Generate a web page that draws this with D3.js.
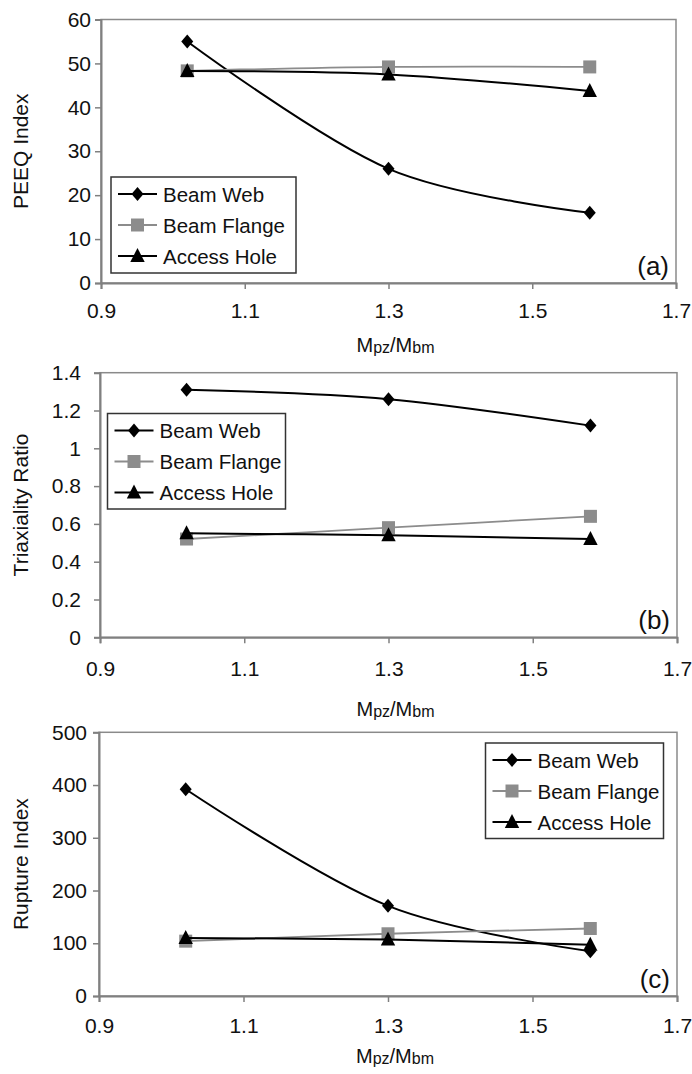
<!DOCTYPE html>
<html>
<head>
<meta charset="utf-8">
<script src="https://cdn.jsdelivr.net/npm/d3@7"></script>
<style>
  html, body { margin: 0; padding: 0; background: #fff; }
  svg { display: block; font-family: "Liberation Sans", Arial, sans-serif; }
</style>
</head>
<body>
<svg id="fig" width="692" height="1074"></svg>
<script>
// Shared x values (panel-zone to beam moment ratio)
const xValues = [1.02, 1.30, 1.58];
const xTicks = [0.9, 1.1, 1.3, 1.5, 1.7];
const seriesNames = ["Beam Web", "Beam Flange", "Access Hole"];

// (a) PEEQ index
const peeqWeb = [55, 26, 16];
const peeqFlange = [48.3, 49.2, 49.2];
const peeqHole = [48.3, 47.5, 43.7];
const peeqTicks = [0, 10, 20, 30, 40, 50, 60];

// (b) Triaxiality ratio
const triaxWeb = [1.31, 1.26, 1.12];
const triaxFlange = [0.52, 0.58, 0.64];
const triaxHole = [0.55, 0.54, 0.52];
const triaxTicks = [0, 0.2, 0.4, 0.6, 0.8, 1, 1.2, 1.4];

// (c) Rupture index
const ruptureWeb = [392, 171, 85];
const ruptureFlange = [104, 118, 128];
const ruptureHole = [110, 107, 97];
const ruptureTicks = [0, 100, 200, 300, 400, 500];

const panelLabels = ["(a)", "(b)", "(c)"];
const yTitles = ["PEEQ Index", "Triaxiality Ratio", "Rupture Index"];

// Series styles
const styles = [
  { stroke: "#000", fill: "#000", shape: "diamond" },
  { stroke: "#8c8c8c", fill: "#8c8c8c", shape: "square" },
  { stroke: "#000", fill: "#000", shape: "triangle" }
];

// Panel geometry
const panels = [
  { left: 101, right: 676, top: 19.5, bottom: 283, yMax: 60, ticks: peeqTicks,
    series: [peeqWeb, peeqFlange, peeqHole], yLabelGap: 10, xLabelOff: 35, xTitleY: 352,
    legend: { x: 111, y: 177, w: 185, h: 96 } },
  { left: 100, right: 677, top: 372.7, bottom: 637.3, yMax: 1.4, ticks: triaxTicks,
    series: [triaxWeb, triaxFlange, triaxHole], yLabelGap: 19, xLabelOff: 39, xTitleY: 716,
    legend: { x: 107.5, y: 413.5, w: 178, h: 95.5 } },
  { left: 99, right: 677, top: 732.3, bottom: 996, yMax: 500, ticks: ruptureTicks,
    series: [ruptureWeb, ruptureFlange, ruptureHole], yLabelGap: 12, xLabelOff: 37, xTitleY: 1063,
    legend: { x: 485.5, y: 743, w: 178, h: 95.5 } }
];

function markerPath(shape) {
  if (shape === "diamond") return "M0,-7L6,0L0,7L-6,0Z";
  if (shape === "square") return "M-6.5,-6.5H6.5V6.5H-6.5Z";
  return "M0,-8L7.2,6H-7.2Z";
}

const svg = d3.select("#fig");
const axisGray = "#808080";
const textFont = "Liberation Sans, Arial, sans-serif";

panels.forEach((p, i) => {
  const g = svg.append("g");
  const x = d3.scaleLinear().domain([0.9, 1.7]).range([p.left, p.right]);
  const y = d3.scaleLinear().domain([0, p.yMax]).range([p.bottom, p.top]);

  // Plot frame
  g.append("rect")
    .attr("x", p.left).attr("y", p.top)
    .attr("width", p.right - p.left).attr("height", p.bottom - p.top)
    .attr("fill", "none").attr("stroke", "#8a8a8a").attr("stroke-width", 1.5);

  // Y axis
  const yAxis = d3.axisLeft(y).tickValues(p.ticks).tickSize(6).tickPadding(p.yLabelGap - 6)
    .tickFormat(d3.format("~g"));
  const ya = g.append("g").attr("transform", `translate(${p.left},0)`).call(yAxis);
  ya.select(".domain").attr("stroke", axisGray).attr("stroke-width", 2);
  ya.selectAll(".tick line").attr("stroke", axisGray).attr("stroke-width", 1.5);
  ya.selectAll(".tick text").attr("font-size", 21).attr("fill", "#111")
    .attr("font-family", textFont);

  // X axis
  const xAxis = d3.axisBottom(x).tickValues(xTicks).tickSize(6).tickPadding(0)
    .tickFormat(d3.format(".1f"));
  const xa = g.append("g").attr("transform", `translate(0,${p.bottom})`).call(xAxis);
  xa.select(".domain").attr("stroke", axisGray).attr("stroke-width", 2);
  xa.selectAll(".tick line").attr("stroke", axisGray).attr("stroke-width", 1.5);
  xa.selectAll(".tick text").attr("font-size", 21).attr("fill", "#111")
    .attr("dy", null).attr("y", p.xLabelOff)
    .attr("font-family", textFont);

  // Axis titles
  const xt = g.append("text")
    .attr("x", (p.left + p.right) / 2 + 7).attr("y", p.xTitleY)
    .attr("text-anchor", "middle").attr("font-size", 20).attr("fill", "#111");
  xt.append("tspan").text("M");
  xt.append("tspan").attr("font-size", 16).attr("dy", 1).text("pz");
  xt.append("tspan").attr("dy", -1).text("/M");
  xt.append("tspan").attr("font-size", 16).attr("dy", 1).text("bm");

  g.append("text")
    .attr("transform", `translate(28,${(p.top + p.bottom) / 2}) rotate(-90)`)
    .attr("text-anchor", "middle").attr("font-size", 21).attr("fill", "#111")
    .text(yTitles[i]);

  // Series lines and markers
  const line = d3.line()
    .x((d, k) => x(xValues[k]))
    .y(d => y(d))
    .curve(d3.curveCardinal.tension(0));

  p.series.forEach((vals, s) => {
    const st = styles[s];
    g.append("path").datum(vals)
      .attr("d", line).attr("fill", "none")
      .attr("stroke", st.stroke).attr("stroke-width", s === 1 ? 1.8 : 2);
    g.selectAll(null).data(vals).enter().append("path")
      .attr("d", markerPath(st.shape))
      .attr("transform", (d, k) => `translate(${x(xValues[k])},${y(d)})`)
      .attr("fill", st.fill);
  });

  // Panel label
  g.append("text")
    .attr("x", p.right - 7).attr("y", p.bottom - 8)
    .attr("text-anchor", "end").attr("font-size", 26).attr("fill", "#111")
    .text(panelLabels[i]);

  // Legend
  const L = p.legend;
  const lg = g.append("g").attr("transform", `translate(${L.x},${L.y})`);
  lg.append("rect").attr("width", L.w).attr("height", L.h)
    .attr("fill", "#fff").attr("stroke", "#333").attr("stroke-width", 1.5);
  seriesNames.forEach((name, s) => {
    const st = styles[s];
    const cy = 17 + s * 31;
    lg.append("line").attr("x1", 7).attr("x2", 46).attr("y1", cy).attr("y2", cy)
      .attr("stroke", st.stroke).attr("stroke-width", 2);
    lg.append("path").attr("d", markerPath(st.shape))
      .attr("transform", `translate(26.5,${cy})`).attr("fill", st.fill);
    lg.append("text").attr("x", 52).attr("y", cy + 7.5)
      .attr("font-size", 20.5).attr("fill", "#111").text(name);
  });
});
</script>
</body>
</html>
